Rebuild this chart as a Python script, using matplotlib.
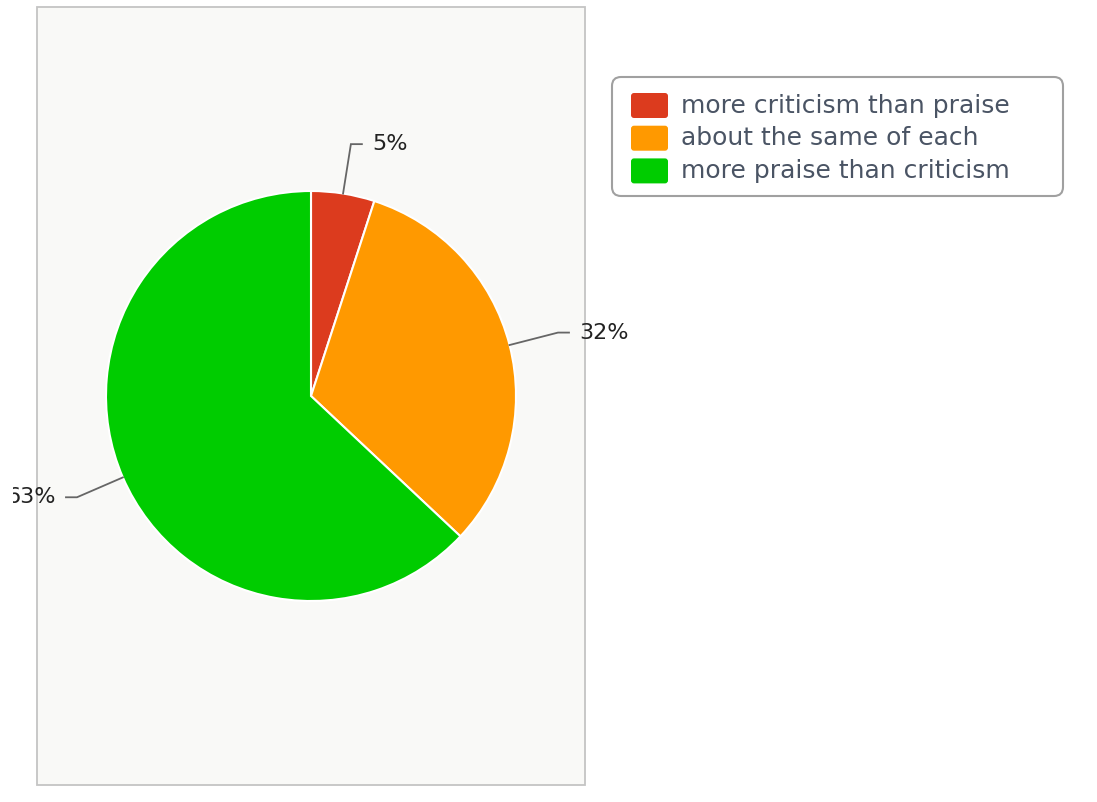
import matplotlib.pyplot as plt
import numpy as np
from matplotlib.patches import Rectangle, FancyBboxPatch

# dados do gráfico
categorias = ["more criticism than praise", "about the same of each", "more praise than criticism"]
valores = [5, 32, 63]
rotulos = ["5%", "32%", "63%"]
cores = ["#dc3b1e", "#ff9900", "#00cc00"]

plt.rcParams["font.family"] = ["DejaVu Sans"]

W, H = 1097, 802
fig = plt.figure(figsize=(W / 100, H / 100), dpi=100)
ax = fig.add_axes([0, 0, 1, 1])


def py(y):
    # pixel do topo -> coordenada do eixo
    return H - y


# painel de fundo
ax.add_patch(Rectangle((37, py(785)), 548, 778, facecolor="#f9f9f7",
                       edgecolor="#c4c4c4", linewidth=1.3, zorder=0))

cx, cy, r = 311, py(396), 205
wedges, _ = ax.pie(valores, colors=cores, startangle=90, counterclock=False,
                   center=(cx, cy), radius=r,
                   wedgeprops=dict(edgecolor="white", linewidth=1.5))

# área visível (a imagem original corta a esquerda)
recorte = Rectangle((13, 0), W, H, transform=ax.transData)

# linhas de chamada e rótulos
for w, txt in zip(wedges, rotulos):
    ang = np.deg2rad((w.theta1 + w.theta2) / 2)
    x0, y0 = cx + r * np.cos(ang), cy + r * np.sin(ang)
    x1, y1 = cx + (r + 50) * np.cos(ang), cy + (r + 50) * np.sin(ang)
    lado = 1 if np.cos(ang) >= 0 else -1
    x2 = x1 + lado * 11
    ax.plot([x0, x1, x2], [y0, y1, y1], color="#666666", lw=1.3,
            solid_joinstyle="miter", zorder=3)
    t = ax.text(x2 + lado * 10, y1, txt, ha="left" if lado > 0 else "right",
                va="center", fontsize=16, color="#222222", clip_on=True)
    t.set_clip_path(recorte)

# legenda
ax.add_patch(FancyBboxPatch((612, py(196)), 451, 119,
                            boxstyle="round,pad=0,rounding_size=9",
                            facecolor="white", edgecolor="#a0a0a0", linewidth=1.5))
for i, (cat, cor) in enumerate(zip(categorias, cores)):
    yc = 105.5 + i * 32.7
    ax.add_patch(FancyBboxPatch((631, py(yc + 12.5)), 37, 25,
                                boxstyle="round,pad=0,rounding_size=3",
                                facecolor=cor, edgecolor="none"))
    ax.text(681, py(yc), cat, ha="left", va="center", fontsize=18,
            color="#4a5464")

ax.set_xlim(0, W)
ax.set_ylim(0, H)
ax.set_aspect("auto")
ax.axis("off")

fig.savefig("out.png", dpi=100, facecolor="white")
